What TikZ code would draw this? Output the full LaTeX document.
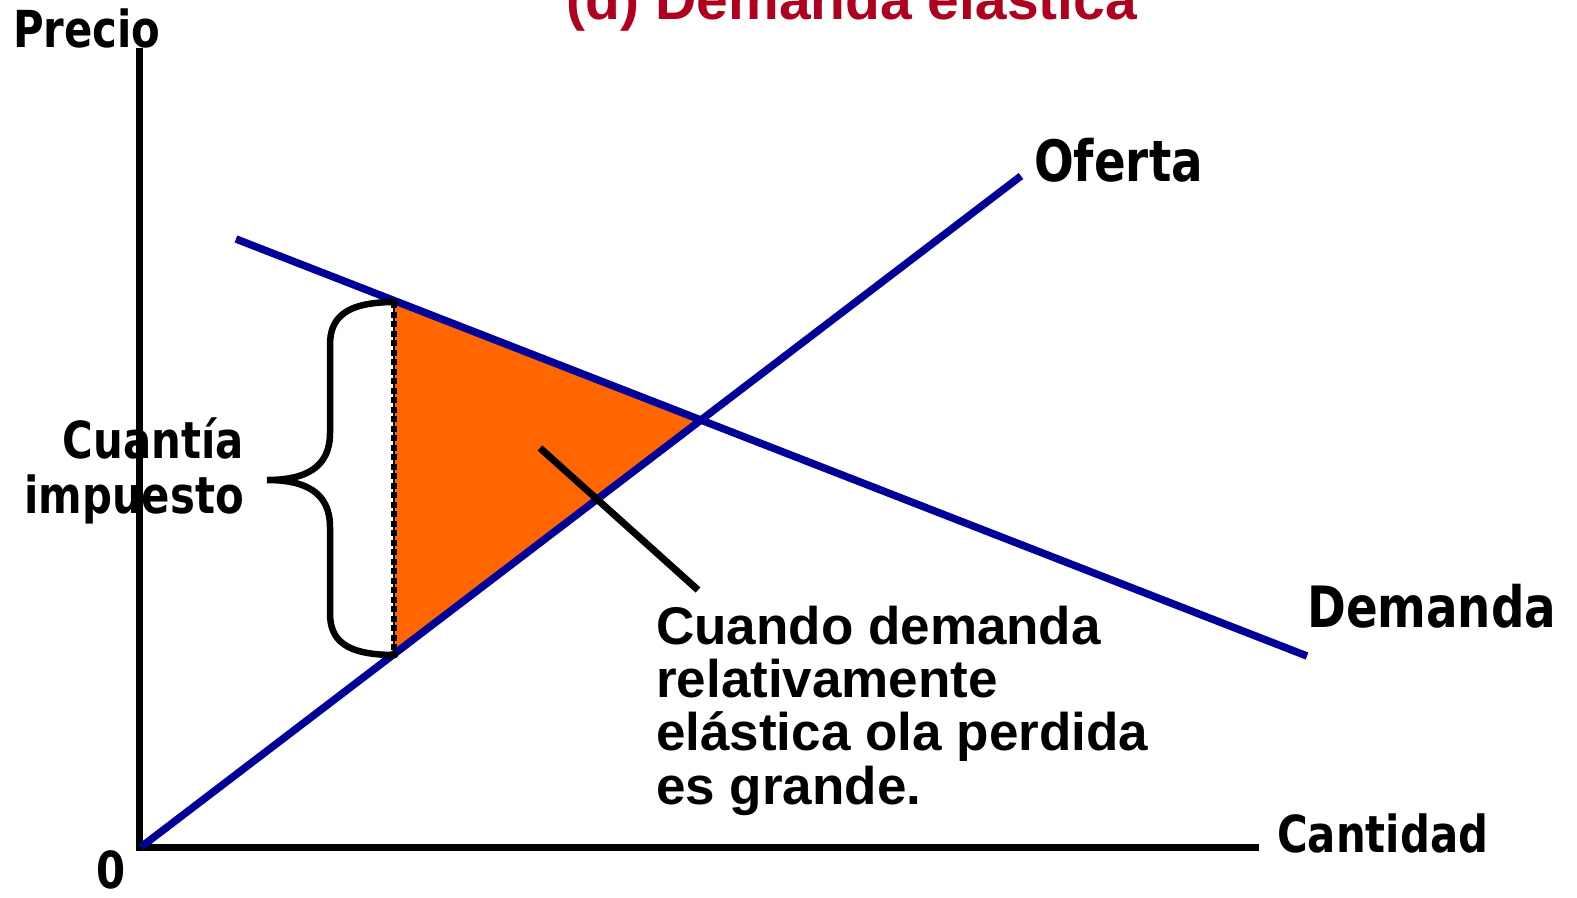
\documentclass[tikz,border=0pt]{standalone}
\usepackage{fontspec}
\setmainfont{Liberation Sans}
\newfontfamily\labfont[FakeStretch=0.82]{DejaVu Sans}
\definecolor{navy}{RGB}{0,0,153}
\definecolor{tri}{RGB}{255,102,0}
\definecolor{titred}{RGB}{176,0,32}
\tikzset{
  lab/.style={inner sep=0pt, font=\labfont\bfseries\fontsize{51bp}{56bp}\selectfont},
  biglab/.style={inner sep=0pt, font=\labfont\bfseries\fontsize{57bp}{60bp}\selectfont},
  note/.style={inner sep=0pt, anchor=base west, font=\bfseries\fontsize{53bp}{54bp}\selectfont},
  curve/.style={draw=navy, line width=7.5bp},
  axis/.style={draw=black, line width=7bp},
}
\begin{document}
\begin{tikzpicture}[x=1bp,y=-1bp]
\clip (0,0) rectangle (1577,897);
\fill[white] (0,0) rectangle (1577,897);
% key points
\coordinate (O) at (141,847);
\coordinate (S) at (1021,176);
\coordinate (D1) at (236,239);
\coordinate (D2) at (1307,656);
\coordinate (T) at (394,302);
\coordinate (B) at (394,654);
\coordinate (E) at (701,420);
\coordinate (Ytop) at (139,48);
\coordinate (Corner) at (139,847);
\coordinate (Xend) at (1259,847);
\coordinate (P1) at (540,448);
\coordinate (P2) at (698,590);
% title
\node[inner sep=0pt, anchor=base, text=titred, font=\bfseries\fontsize{57bp}{60bp}\selectfont] (title) at (852,19) {(d) Demanda elástica};
% triangle
\fill[tri] (T) -- (E) -- (B) -- cycle;
% axes
\draw[axis, line join=miter] (Ytop) -- (Corner) -- (Xend);
% curves
\draw[curve] (O) -- (S);
\draw[curve] (D1) -- (D2);
% dashed vertical
\draw[black, line width=1.5bp] (T) -- (B);
\draw[black, line width=6bp, dash pattern=on 6bp off 3.5bp] (T) -- (B);
% brace
\draw[black, line width=6.5bp, line cap=round] (395,302) .. controls (345,302) and (330,318) .. (330,345) -- (330,433) .. controls (330,468) and (305,480) .. (267,480) .. controls (305,480) and (330,492) .. (330,527) -- (330,613) .. controls (330,640) and (345,655) .. (395,655);
% pointer
\draw[black, line width=7bp] (P1) -- (P2);
% labels
\node[lab, anchor=base west] (precio) at (13,47) {Precio};
\node[lab, anchor=base east] (cuantia) at (244,458) {Cuantía};
\node[lab, anchor=base east] (impuesto) at (244,513) {impuesto};
\node[biglab, anchor=base west] (oferta) at (1034,181) {Oferta};
\node[biglab, anchor=base west] (demanda) at (1307,627) {Demanda};
\node[lab, anchor=base west] (cantidad) at (1277,852) {Cantidad};
\node[lab, anchor=base west] (zero) at (96,888) {0};
% note
\node[note] (n1) at (656,644) {Cuando demanda};
\node[note] (n2) at (656,697) {relativamente};
\node[note] (n3) at (656,750) {elástica ola perdida};
\node[note] (n4) at (656,804) {es grande.};
\end{tikzpicture}
\end{document}
